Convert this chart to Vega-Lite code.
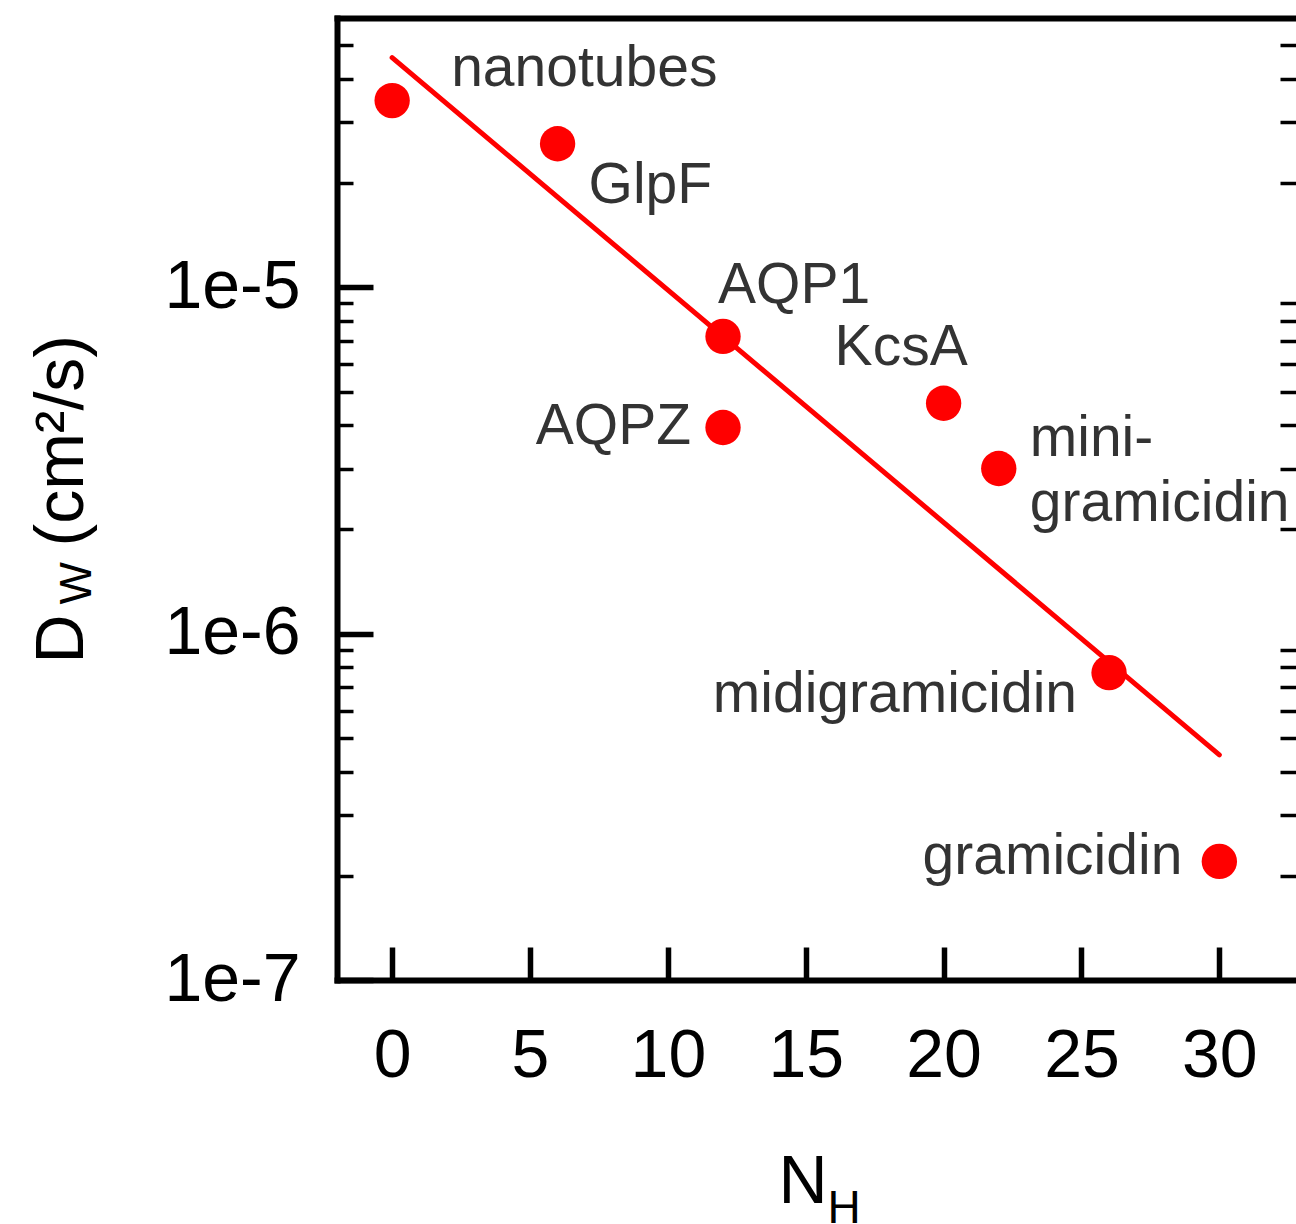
{
  "$schema": "https://vega.github.io/schema/vega-lite/v6.json",
  "autosize": "none",
  "padding": {"left": 337, "top": 18, "right": 0, "bottom": 244},
  "width": 959,
  "height": 962,
  "background": "white",
  "config": {
    "view": {"stroke": null},
    "font": "Liberation Sans",
    "axis": {
      "grid": false,
      "domainColor": "black",
      "tickColor": "black",
      "labelColor": "black",
      "titleColor": "black",
      "labelFont": "Liberation Sans",
      "titleFont": "Liberation Sans",
      "titleFontWeight": "normal",
      "domainCap": "square"
    }
  },
  "datasets": {
    "pts": [
      {"name": "nanotubes", "label": "nanotubes", "nh": 0, "dw": 3.465e-5},
      {"name": "GlpF", "label": "GlpF", "nh": 6, "dw": 2.60e-5},
      {"name": "AQP1", "label": "AQP1", "nh": 12, "dw": 7.22e-6},
      {"name": "AQPZ", "label": "AQPZ", "nh": 12, "dw": 3.94e-6},
      {"name": "KcsA", "label": "KcsA", "nh": 20, "dw": 4.63e-6},
      {"name": "mini-gramicidin", "label": "mini-\ngramicidin", "nh": 22, "dw": 3.0e-6},
      {"name": "midigramicidin", "label": "midigramicidin", "nh": 26, "dw": 7.72e-7},
      {"name": "gramicidin", "label": "gramicidin", "nh": 30, "dw": 2.2e-7}
    ],
    "fit": [
      {"nh": 0, "dw": 4.61e-5},
      {"nh": 30, "dw": 4.47e-7}
    ]
  },
  "resolve": {"scale": {"x": "independent", "y": "independent"}},
  "layer": [
    {
      "encoding": {
        "x": {
          "field": "nh",
          "type": "quantitative",
          "scale": {"domain": [-2, 32.78], "nice": false, "zero": false},
          "axis": {
            "values": [0, 5, 10, 15, 20, 25, 30],
            "title": "N",
            "titleFontSize": 68,
            "titleX": 441,
            "titleY": 222,
            "titleAlign": "left",
            "titleBaseline": "alphabetic",
            "labelFontSize": 68,
            "labelPadding": 75,
            "labelFlush": false,
            "labelOverlap": false,
            "tickSize": -33,
            "tickWidth": 5.5,
            "domainWidth": 6
          }
        },
        "y": {
          "field": "dw",
          "type": "quantitative",
          "scale": {"type": "log", "domain": [1e-7, 6e-5], "nice": false},
          "axis": {
            "values": [1e-7, 2e-7, 3e-7, 4e-7, 5e-7, 6e-7, 7e-7, 8e-7, 9e-7, 1e-6, 2e-6, 3e-6, 4e-6, 5e-6, 6e-6, 7e-6, 8e-6, 9e-6, 1e-5, 2e-5, 3e-5, 4e-5, 5e-5],
            "labelExpr": "abs(log(datum.value)/LN10 - round(log(datum.value)/LN10)) < 0.01 ? '1e' + round(log(datum.value)/LN10) : ''",
            "labelFontSize": 68,
            "labelPadding": 73,
            "labelFlush": false,
            "labelOverlap": false,
            "tickSize": {"condition": {"test": "abs(log(datum.value)/LN10 - round(log(datum.value)/LN10)) < 0.01", "value": -36}, "value": -16},
            "tickWidth": {"condition": {"test": "abs(log(datum.value)/LN10 - round(log(datum.value)/LN10)) < 0.01", "value": 5.5}, "value": 3.5},
            "domainWidth": 6,
            "title": "D",
            "titleFontSize": 68,
            "titleAngle": -90,
            "titleX": -255,
            "titleY": 645,
            "titleAlign": "left",
            "titleBaseline": "alphabetic"
          }
        }
      },
      "layer": [
        {
          "data": {"name": "fit"},
          "mark": {"type": "line", "color": "#ff0000", "strokeWidth": 5, "strokeCap": "round"}
        },
        {
          "data": {"name": "pts"},
          "mark": {"type": "circle", "color": "#ff0000", "size": 1250, "opacity": 1}
        },
        {
          "data": {"name": "pts"},
          "transform": [{"filter": "datum.name == 'nanotubes'"}],
          "mark": {"type": "text", "fontSize": 57, "color": "#333333", "align": "left", "baseline": "alphabetic", "dx": 59, "dy": -15},
          "encoding": {"text": {"field": "label"}}
        },
        {
          "data": {"name": "pts"},
          "transform": [{"filter": "datum.name == 'GlpF'"}],
          "mark": {"type": "text", "fontSize": 57, "color": "#333333", "align": "left", "baseline": "alphabetic", "dx": 31, "dy": 59},
          "encoding": {"text": {"field": "label"}}
        },
        {
          "data": {"name": "pts"},
          "transform": [{"filter": "datum.name == 'AQP1'"}],
          "mark": {"type": "text", "fontSize": 57, "color": "#333333", "align": "left", "baseline": "alphabetic", "dx": -5, "dy": -33},
          "encoding": {"text": {"field": "label"}}
        },
        {
          "data": {"name": "pts"},
          "transform": [{"filter": "datum.name == 'KcsA'"}],
          "mark": {"type": "text", "fontSize": 57, "color": "#333333", "align": "left", "baseline": "alphabetic", "dx": -109, "dy": -38},
          "encoding": {"text": {"field": "label"}}
        },
        {
          "data": {"name": "pts"},
          "transform": [{"filter": "datum.name == 'AQPZ'"}],
          "mark": {"type": "text", "fontSize": 57, "color": "#333333", "align": "right", "baseline": "alphabetic", "dx": -32, "dy": 16},
          "encoding": {"text": {"field": "label"}}
        },
        {
          "data": {"name": "pts"},
          "transform": [{"filter": "datum.name == 'mini-gramicidin'"}],
          "mark": {"type": "text", "fontSize": 57, "color": "#333333", "align": "left", "baseline": "top", "lineBreak": "\n", "lineHeight": 65, "dx": 31, "dy": -58},
          "encoding": {"text": {"field": "label"}}
        },
        {
          "data": {"name": "pts"},
          "transform": [{"filter": "datum.name == 'midigramicidin'"}],
          "mark": {"type": "text", "fontSize": 57, "color": "#333333", "align": "right", "baseline": "alphabetic", "dx": -32, "dy": 39},
          "encoding": {"text": {"field": "label"}}
        },
        {
          "data": {"name": "pts"},
          "transform": [{"filter": "datum.name == 'gramicidin'"}],
          "mark": {"type": "text", "fontSize": 57, "color": "#333333", "align": "right", "baseline": "alphabetic", "dx": -37, "dy": 13},
          "encoding": {"text": {"field": "label"}}
        }
      ]
    },
    {
      "data": {"name": "pts"},
      "mark": {"type": "point", "opacity": 0},
      "encoding": {
        "x": {
          "field": "nh",
          "type": "quantitative",
          "scale": {"domain": [-2, 32.78], "nice": false, "zero": false},
          "axis": {
            "orient": "top",
            "ticks": false,
            "labels": false,
            "domainWidth": 6,
            "title": "H",
            "titleFontSize": 46,
            "titleX": 490,
            "titleY": 1204,
            "titleAlign": "left",
            "titleBaseline": "alphabetic"
          }
        },
        "y": {
          "field": "dw",
          "type": "quantitative",
          "scale": {"type": "log", "domain": [1e-7, 6e-5], "nice": false},
          "axis": {
            "orient": "right",
            "values": [2e-7, 3e-7, 4e-7, 5e-7, 6e-7, 7e-7, 8e-7, 9e-7, 2e-6, 3e-6, 4e-6, 5e-6, 6e-6, 7e-6, 8e-6, 9e-6, 2e-5, 3e-5, 4e-5, 5e-5],
            "labels": false,
            "domain": false,
            "tickSize": -16,
            "tickWidth": 3.5,
            "title": "W",
            "titleFontSize": 45,
            "titleAngle": -90,
            "titleX": -1206,
            "titleY": 586,
            "titleAlign": "left",
            "titleBaseline": "alphabetic"
          }
        }
      }
    },
    {
      "data": {"name": "pts"},
      "mark": {"type": "point", "opacity": 0},
      "encoding": {
        "x": {
          "field": "nh",
          "type": "quantitative",
          "scale": {"domain": [-2, 32.78], "nice": false, "zero": false},
          "axis": null
        },
        "y": {
          "field": "dw",
          "type": "quantitative",
          "scale": {"type": "log", "domain": [1e-7, 6e-5], "nice": false},
          "axis": {
            "orient": "left",
            "labels": false,
            "ticks": false,
            "domain": false,
            "title": "(cm²/s)",
            "titleFontSize": 68,
            "titleAngle": -90,
            "titleX": -255,
            "titleY": 528,
            "titleAlign": "left",
            "titleBaseline": "alphabetic"
          }
        }
      }
    }
  ]
}
